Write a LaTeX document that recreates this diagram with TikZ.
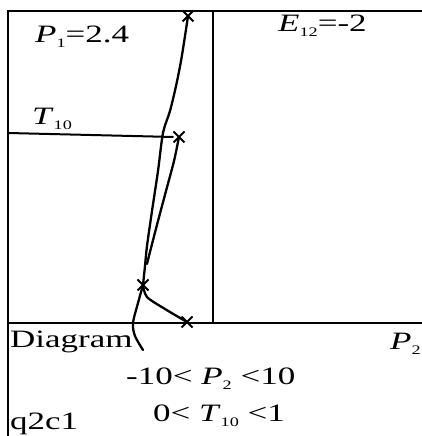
\documentclass[tikz,border=0pt]{standalone}
\usepackage{fontspec}
\setmainfont[FakeStretch=1.4]{Liberation Serif}
\usepackage{xcolor}
\usetikzlibrary{positioning,shapes.misc}
\definecolor{plotink}{HTML}{000000}
\newcommand\lblfont{\fontsize{25}{28}\selectfont}
\newcommand\sbs[1]{\raisebox{-0.35ex}{\fontsize{13}{13}\selectfont #1}}
\tikzset{
  frame/.style ={draw=plotink,line width=2pt},
  trace/.style ={draw=plotink,line width=2.3pt,line cap=round,line join=round},
  xmark/.style ={cross out,draw=plotink,line width=2pt,minimum size=9pt,inner sep=0pt},
  lbl/.style   ={font=\lblfont,inner sep=0pt,anchor=base west,text=plotink},
}
\begin{document}
\begin{tikzpicture}[x=1pt,y=1pt]
  \useasboundingbox (0,0) rectangle (422,436);

  % frame corners
  \coordinate (tl) at (8,425);
  \coordinate (tr) at (422,425);
  \coordinate (bl) at (8,0);
  \coordinate (ml) at (8,113);
  \coordinate (mr) at (422,113);
  \coordinate (vt) at (213,425);
  \coordinate (vb) at (213,113);
  \coordinate (tlft) at (8,303);

  % crosses
  \node[xmark] (xa) at (188,420) {};
  \node[xmark] (xb) at (179,299) {};
  \node[xmark] (xc) at (143,151) {};
  \node[xmark] (xd) at (187,114) {};
  \coordinate (tail) at (143,86);

  \draw[frame] (bl) -- (tl) -- (tr);
  \draw[frame] (ml) -- (mr);
  \draw[frame] (vt) -- (vb);
  \draw[frame] (tlft) -- (xb.west);

  \draw[trace] plot[smooth] coordinates {(xa.center) (185,400) (181,375) (176,350) (170,325) (163,303) (158,265) (152,225) (147,190) (145,170) (xc.center)};
  \draw[trace] plot[smooth] coordinates {(xb.center) (174,275) (166,245) (158,215) (151,188) (147,172)};
  \draw[trace] plot[smooth] coordinates {(xc.center) (138,133) (133,113) (135,100) (tail)};
  \draw[trace] plot[smooth] coordinates {(xc.center) (147,139) (165,127) (xd.center)};

  % labels
  \node[lbl] (p1)   at (35,393)  {\textit{P}\sbs{1}=2.4};
  \node[lbl] (e12)  at (278,404) {\textit{E}\sbs{12}=-2};
  \node[lbl] (t10)  at (32,311)  {\textit{T}\sbs{10}};
  \node[lbl] (diag) at (10,88)   {Diagram};
  \node[lbl] (p2)   at (390,86)  {\textit{P}\sbs{2}};
  \node[lbl] (rngp) at (126,51)  {-10< \textit{P}\sbs{2} <10};
  \node[lbl] (rngt) at (153,14)  {0< \textit{T}\sbs{10} <1};
  \node[lbl] (code) at (10,6)    {q2c1};
\end{tikzpicture}
\end{document}
